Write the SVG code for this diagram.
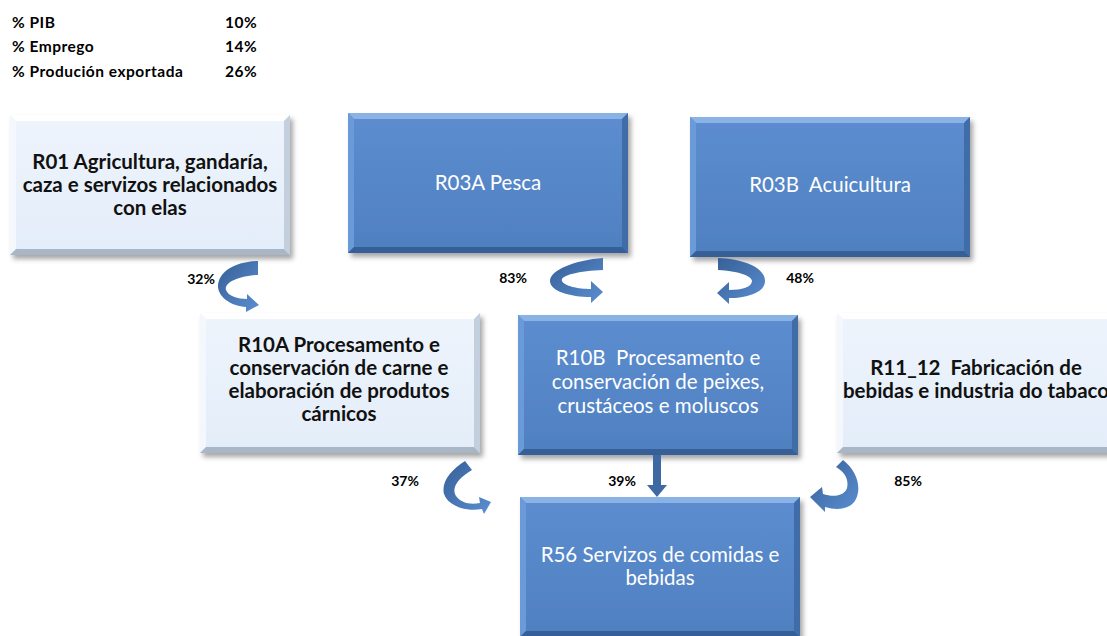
<svg xmlns="http://www.w3.org/2000/svg" xmlns:xlink="http://www.w3.org/1999/xlink" width="1107" height="636" viewBox="0 0 1107 636">
<style>
.hdr{font-family:Lato,"Liberation Sans",sans-serif;font-weight:bold;font-size:15.5px;letter-spacing:0.5px;fill:#000}
.pct{font-family:Lato,"Liberation Sans",sans-serif;font-weight:bold;font-size:14px;fill:#000;text-anchor:middle}
.lt{font-family:Lato,"Liberation Sans",sans-serif;font-weight:bold;font-size:20.5px;fill:#111;text-anchor:middle}
.dk{font-family:Lato,"Liberation Sans",sans-serif;font-size:20.5px;fill:#fff;text-anchor:middle}
.arr{fill:url(#ag)}
</style>
<defs>
<filter id="sh" x="-10%" y="-10%" width="125%" height="130%">
<feDropShadow dx="3" dy="4" stdDeviation="2.5" flood-color="#000" flood-opacity="0.35"/>
</filter>
<linearGradient id="gd" x1="0" y1="0" x2="0" y2="1">
<stop offset="0" stop-color="#5c8dd0"/>
<stop offset="1" stop-color="#4f80c0"/>
</linearGradient>
<linearGradient id="gl" x1="0" y1="0" x2="0" y2="1">
<stop offset="0" stop-color="#eef4fc"/>
<stop offset="1" stop-color="#e3edf9"/>
</linearGradient>
<linearGradient id="ag" x1="0" y1="0" x2="1" y2="1">
<stop offset="0" stop-color="#365f96"/>
<stop offset="1" stop-color="#5b8fd2"/>
</linearGradient>
<g id="boxD" filter="url(#sh)">
<rect x="0" y="0" width="280" height="140" fill="url(#gd)"/>
<polygon points="0,0 280,0 274,6 6,6" fill="#8ab2e4"/>
<polygon points="0,0 6,6 6,134 0,140" fill="#6a9ad8"/>
<polygon points="280,0 280,140 274,134 274,6" fill="#3f6ca8"/>
<polygon points="0,140 280,140 274,134 6,134" fill="#355f96"/>
</g>
<g id="boxL" filter="url(#sh)">
<rect x="0" y="0" width="280" height="140" fill="url(#gl)"/>
<polygon points="0,0 280,0 274,6 6,6" fill="#ffffff"/>
<polygon points="0,0 6,6 6,134 0,140" fill="#f4f8fd"/>
<polygon points="280,0 280,140 274,134 274,6" fill="#c3cfdd"/>
<polygon points="0,140 280,140 274,134 6,134" fill="#a9b6c6"/>
</g>
</defs>
<rect width="1107" height="636" fill="#fff"/>
<g id="stats">
<text class="hdr" x="12" y="28">% PIB</text>
<text class="hdr" x="225" y="28">10%</text>
<text class="hdr" x="12" y="52">% Emprego</text>
<text class="hdr" x="225" y="52">14%</text>
<text class="hdr" x="12" y="77">% Produción exportada</text>
<text class="hdr" x="225" y="77">26%</text>
</g>
<g id="R01">
<use xlink:href="#boxL" x="10" y="115"/>
<text class="lt" x="150" y="169">R01 Agricultura, gandaría,</text>
<text class="lt" x="150" y="192">caza e servizos relacionados</text>
<text class="lt" x="150" y="215">con elas</text>
</g>
<g id="R03A">
<use xlink:href="#boxD" x="348" y="113"/>
<text class="dk" x="488" y="190">R03A Pesca</text>
</g>
<g id="R03B">
<use xlink:href="#boxD" x="690" y="117"/>
<text class="dk" x="830" y="192">R03B&#160; Acuicultura</text>
</g>
<g id="R10A">
<use xlink:href="#boxL" x="200" y="313"/>
<text class="lt" x="339" y="352">R10A Procesamento e</text>
<text class="lt" x="339" y="375">conservación de carne e</text>
<text class="lt" x="339" y="398">elaboración de produtos</text>
<text class="lt" x="339" y="421">cárnicos</text>
</g>
<g id="R10B">
<use xlink:href="#boxD" x="518" y="315"/>
<text class="dk" x="658" y="365">R10B&#160; Procesamento e</text>
<text class="dk" x="658" y="389">conservación de peixes,</text>
<text class="dk" x="658" y="413">crustáceos e moluscos</text>
</g>
<g id="R11_12">
<use xlink:href="#boxL" x="837" y="313"/>
<text class="lt" x="976" y="375">R11_12&#160; Fabricación de</text>
<text class="lt" x="976" y="398">bebidas e industria do tabaco</text>
</g>
<g id="R56">
<use xlink:href="#boxD" x="520" y="497"/>
<text class="dk" x="660" y="562">R56 Servizos de comidas e</text>
<text class="dk" x="660" y="585">bebidas</text>
</g>
<g id="connectors">
<path class="arr" d="M258 261 L258 275 C238 276 224 283 226 290 C228 296 238 299 247 299 L247 294 L259 305 L246 312 L246 307 C232 306 219 298 218 287 C218 272 234 262 258 261 Z"/>
<path class="arr" d="M603 258 L603 270 C580 271 560 275 562 281 C564 286 578 289 591 289 L591 281 L603 292 L591 303 L591 297 C570 297 550 291 550 281 C550 270 575 260 603 258 Z"/>
<path class="arr" d="M718 258 L718 270 C738 271 752 276 752 281 C752 287 742 290 729 290 L729 282 L717 293 L729 304 L729 298 C748 298 765 292 765 281 C765 268 745 259 718 258 Z"/>
<path class="arr" d="M465 461 L472 470 C458 478 451 488 456 496 C461 503 470 505 480 503 L479 497 L491 502 L484 514 L482 509 C466 512 448 506 444 494 C441 482 451 470 465 461 Z"/>
<path class="arr" d="M843 460 C856 470 862 486 856 499 C851 509 838 511 825 507 L825 512 L810 497 L822 487 L823 494 C835 498 845 495 847 488 C849 480 845 472 836 467 Z"/>
<path fill="#3d6aa3" d="M653 455 L661 455 L661 485 L667 485 L657 497 L647 485 L653 485 Z"/>
<text class="pct" x="201" y="284">32%</text>
<text class="pct" x="513" y="283">83%</text>
<text class="pct" x="800" y="283">48%</text>
<text class="pct" x="405" y="486">37%</text>
<text class="pct" x="622" y="486">39%</text>
<text class="pct" x="908" y="486">85%</text>
</g>
</svg>
